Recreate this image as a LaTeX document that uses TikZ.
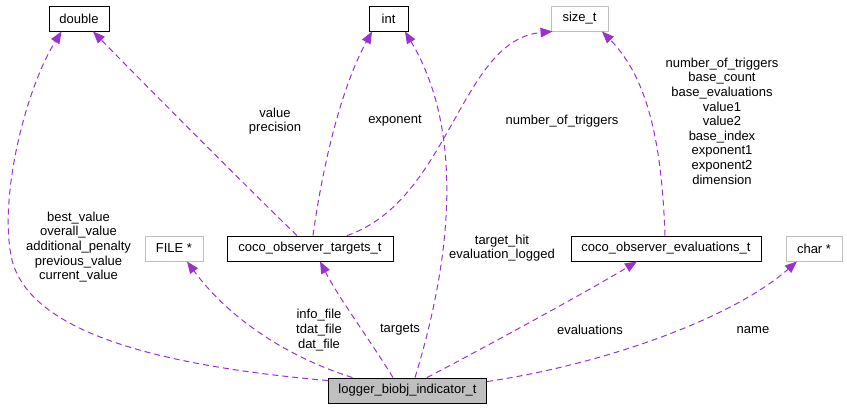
\documentclass[tikz,border=0pt]{standalone}
\usepackage{fontspec}
\setmainfont{Liberation Sans}
\usetikzlibrary{arrows.meta,calc}
\definecolor{edgec}{HTML}{9A32CD}
\definecolor{lgray}{HTML}{BFBFBF}
\begin{document}
\begin{tikzpicture}[x=1pt,y=-1pt,
  every node/.style={font=\fontsize{13}{14.6}\selectfont},
  cls/.style={draw=black,line width=0.9pt,inner sep=0pt,minimum height=25pt,fill=white},
  ext/.style={draw=lgray,line width=0.9pt,inner sep=0pt,minimum height=25pt,fill=white},
  lbl/.style={align=center,inner sep=0pt},
  rel/.style={draw=edgec,line width=1pt,dash pattern=on 6pt off 4pt,
    -{Triangle[length=12pt,width=9.5pt,fill=edgec]}}]
\useasboundingbox (0,0) rectangle (847,409);
\node[cls,minimum width=60pt] (double) at (79,18.5) {double};
\node[cls,minimum width=39pt] (int) at (388.5,18.5) {int};
\node[ext,minimum width=57pt] (sizet) at (579.5,18.5) {size\_t};
\node[ext,minimum width=58pt] (file) at (174,248.5) {FILE *};
\node[cls,minimum width=166pt] (targets) at (310,248.5) {coco\_observer\_targets\_t};
\node[cls,minimum width=190pt] (evals) at (666,248.5) {coco\_observer\_evaluations\_t};
\node[ext,minimum width=56pt] (char) at (814,248.5) {char *};
\node[cls,minimum width=158pt,fill=lgray] (logger) at (407.5,390.5) {logger\_biobj\_indicator\_t};

% edges
\draw[rel] ($(logger.north west)+(0,3)$) .. controls (150,365) and (30,330) .. (12,260)
  .. controls (-2,200) and (25,90) .. ($(double.south west)+(13,0)$);
\draw[rel] ($(logger.north west)+(24.5,0)$) .. controls (290,358) and (230,320) .. ($(file.south)+(13,0)$);
\draw[rel] ($(logger.north)+(-14.5,0)$) .. controls (370,340) and (340,300) .. ($(targets.south)+(10,0)$);
\draw[rel] ($(logger.north)+(7.5,0)$) .. controls (445,280) and (470,140) .. ($(int.south)+(16.5,0)$);
\draw[rel] ($(targets.north)+(-13,0)$) .. controls (260,200) and (160,100) .. ($(double.south)+(14,0)$);
\draw[rel] ($(targets.north)+(3,0)$) .. controls (322,170) and (340,90) .. ($(int.south)+(-16.5,0)$);
\draw[rel] ($(targets.north)+(37,0)$) .. controls (450,200) and (460,40) .. ($(sizet.south west)+(2,0)$);
\draw[rel] ($(evals.north)+(-1,0)$) .. controls (662,150) and (650,80) .. ($(sizet.south)+(22.5,0)$);
\draw[rel] ($(logger.north)+(19.5,0)$) .. controls (480,350) and (590,290) .. ($(evals.south)+(-29,0)$);
\draw[rel] ($(logger.north east)+(0,4)$) .. controls (600,365) and (730,320) .. ($(char.south)+(-17,0)$);

% labels
\node[lbl] (l1) at (78.5,247) {best\_value\\overall\_value\\additional\_penalty\\previous\_value\\current\_value};
\node[lbl] (l2) at (319,330) {info\_file\\tdat\_file\\dat\_file};
\node[lbl] (l3) at (400,330) {targets};
\node[lbl] (l4) at (502,248) {target\_hit\\evaluation\_logged};
\node[lbl] (l5) at (275,121) {value\\precision};
\node[lbl] (l6) at (395,121) {exponent};
\node[lbl] (l7) at (562,121) {number\_of\_triggers};
\node[lbl] (l8) at (722,121) {number\_of\_triggers\\base\_count\\base\_evaluations\\value1\\value2\\base\_index\\exponent1\\exponent2\\dimension};
\node[lbl] (l9) at (590,330) {evaluations};
\node[lbl] (l10) at (753,330) {name};
\end{tikzpicture}
\end{document}
